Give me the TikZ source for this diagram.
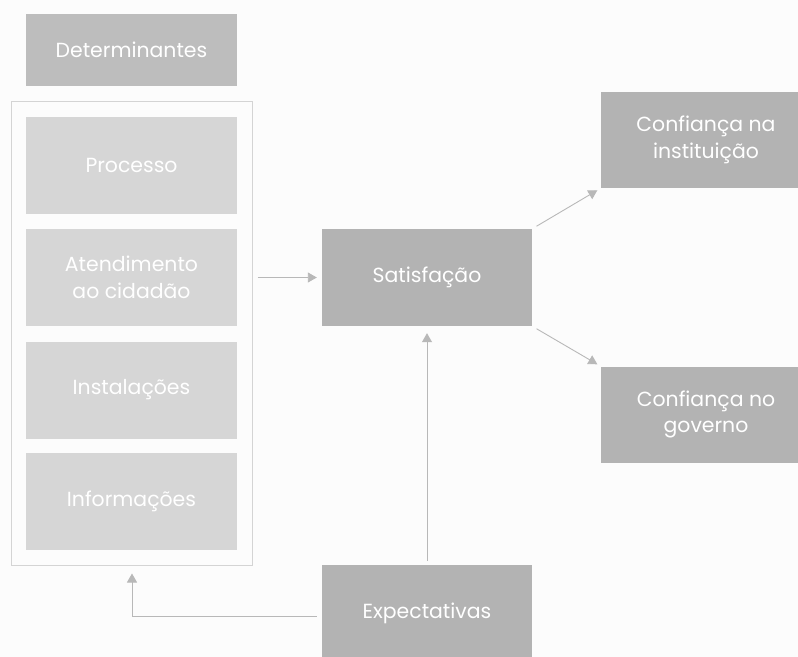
\documentclass[tikz,border=0pt]{standalone}
\usepackage{fontspec}
\setmainfont{Poppins}
\usepackage{tikz}
\usetikzlibrary{calc,positioning,arrows.meta}
\definecolor{boxdark}{HTML}{B3B3B3}
\definecolor{boxmid}{HTML}{BDBDBD}
\definecolor{boxlight}{HTML}{D6D6D6}
\definecolor{linegray}{HTML}{B8B8B8}
\definecolor{framegray}{HTML}{D4D4D4}

\begin{document}
\begin{tikzpicture}[x=1bp, y=-1bp, font=\fontsize{20.5}{27}\selectfont]
\tikzstyle{every node}=[inner sep=0pt, text=white, align=center]
\tikzstyle{dark}=[fill=boxdark, minimum width=210bp, minimum height=97bp]
\tikzstyle{light}=[fill=boxlight, minimum width=211bp, minimum height=97bp]
\tikzstyle{arr}=[draw=linegray, line width=0.9bp,
                 -{Triangle[width=10bp,length=9bp]}]
\fill[white!99!black] (0,0) rectangle (798,657);
\clip (0,0) rectangle (798,657);

\node[fill=boxmid, minimum width=211bp, minimum height=72bp] (det) at (131.5,50) {Determinantes};
\node[draw=framegray, line width=1bp, minimum width=240bp, minimum height=463bp] (frame) at (132,333.5) {};
\foreach \n/\y/\t in {proc/165.5/Processo, aten/277.5/{Atendimento\\ao cidadão},
                      inst/390/Instalações, info/501.5/Informações}
  {\node[light] (\n) at (131.5,\y) {\t};}

\node[dark] (sat) at (427,277.5) {Satisfação};
\node[dark, minimum height=96bp] (confi) at (706,140) {Confiança na\\instituição};
\node[dark, minimum height=96bp] (confg) at (706,414.5) {Confiança no\\governo};
\node[dark, minimum height=96bp] (exp) at (427,613) {Expectativas};

\draw[arr, shorten <=5bp, shorten >=5bp] (frame.east |- sat.west) -- (sat.west);
\draw[arr, shorten <=5bp, shorten >=4bp] (sat.north east) -- (confi.south west);
\draw[arr, shorten <=5bp, shorten >=4bp] (sat.south east) -- (confg.north west);
\draw[arr, shorten <=4bp, shorten >=7bp] (exp.north) -- (sat.south);
\draw[arr, shorten <=5bp, shorten >=8bp] ($(exp.west)+(0,3)$) -| (frame.south);

\end{tikzpicture}
\end{document}
